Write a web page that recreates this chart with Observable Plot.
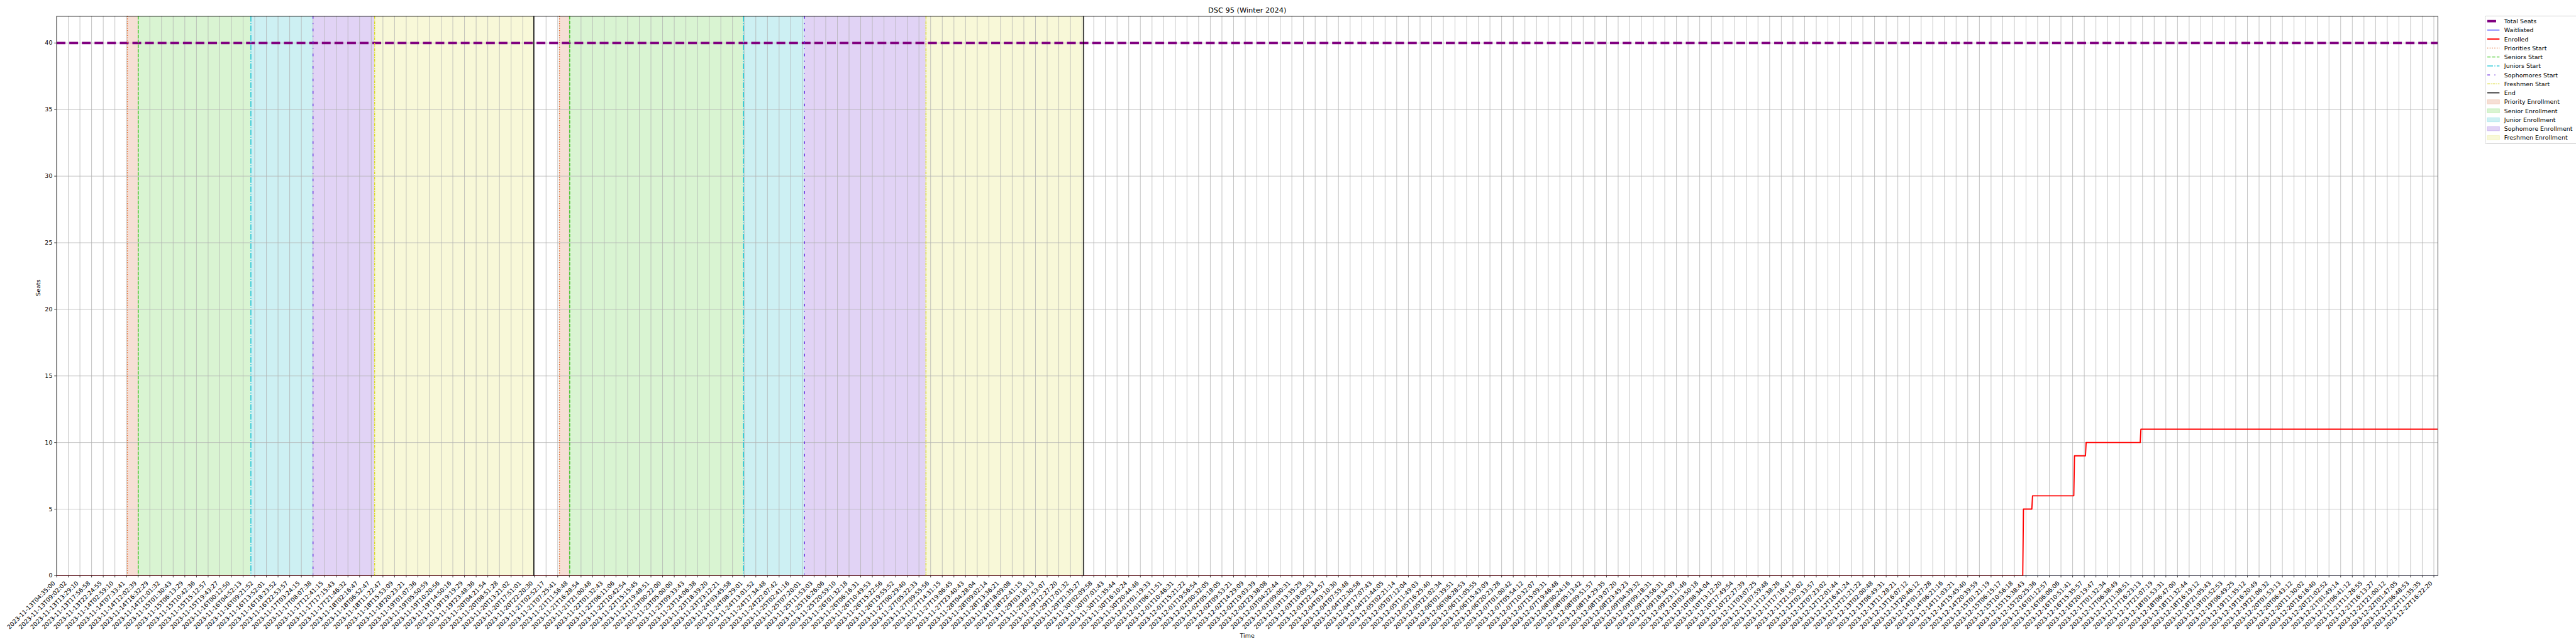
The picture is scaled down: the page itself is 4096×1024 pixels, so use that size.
<!DOCTYPE html>
<html>
<head>
<meta charset="utf-8">
<script src="https://cdn.jsdelivr.net/npm/d3@7"></script>
<script src="https://cdn.jsdelivr.net/npm/@observablehq/plot@0.6"></script>
<style>
html, body { margin: 0; padding: 0; background: #fff; }
#wrap { position: relative; width: 4096px; height: 1024px; overflow: hidden; }
</style>
</head>
<body>
<div id="wrap"></div>
<script>
// ---------------- data ----------------
const title = "DSC 95 (Winter 2024)";
const xLabel = "Time";
const yLabel = "Seats";

// x axis is the sample sequence; one unit = one tick step. Tick labels:
const tickLabels = [
"2023-11-13T04:35:00","2023-11-13T09:02:02","2023-11-13T13:29:10","2023-11-13T17:56:58","2023-11-13T22:24:55",
"2023-11-14T02:59:10","2023-11-14T07:33:41","2023-11-14T12:02:39","2023-11-14T16:32:29","2023-11-14T21:01:32",
"2023-11-15T01:30:43","2023-11-15T06:13:29","2023-11-15T10:42:36","2023-11-15T15:12:57","2023-11-15T19:43:27",
"2023-11-16T00:12:50","2023-11-16T04:52:13","2023-11-16T09:21:52","2023-11-16T13:52:01","2023-11-16T18:23:52",
"2023-11-16T22:53:57","2023-11-17T03:24:15","2023-11-17T08:07:38","2023-11-17T12:41:15","2023-11-17T17:15:43",
"2023-11-17T21:46:32","2023-11-18T02:16:47","2023-11-18T06:52:47","2023-11-18T11:22:47","2023-11-18T15:53:09",
"2023-11-18T20:23:21","2023-11-19T01:07:36","2023-11-19T05:50:59","2023-11-19T10:20:56","2023-11-19T14:50:16",
"2023-11-19T19:19:29","2023-11-19T23:48:36","2023-11-20T04:21:54","2023-11-20T08:51:28","2023-11-20T13:21:02",
"2023-11-20T17:51:01","2023-11-20T22:20:30","2023-11-21T02:52:17","2023-11-21T07:25:41","2023-11-21T11:56:48",
"2023-11-21T16:28:54","2023-11-21T21:00:48","2023-11-22T01:32:43","2023-11-22T06:11:06","2023-11-22T10:42:54",
"2023-11-22T15:15:45","2023-11-22T19:48:51","2023-11-23T00:22:00","2023-11-23T05:00:00","2023-11-23T09:33:43",
"2023-11-23T14:06:38","2023-11-23T18:39:20","2023-11-23T23:12:21","2023-11-24T03:45:58","2023-11-24T08:29:01",
"2023-11-24T13:01:52","2023-11-24T17:34:48","2023-11-24T22:07:42","2023-11-25T02:41:16","2023-11-25T07:20:01",
"2023-11-25T11:53:03","2023-11-25T16:26:06","2023-11-25T20:59:10","2023-11-26T01:32:18","2023-11-26T06:16:31",
"2023-11-26T10:49:53","2023-11-26T15:22:56","2023-11-26T19:55:52","2023-11-27T00:29:40","2023-11-27T05:22:33",
"2023-11-27T09:55:56","2023-11-27T14:31:15","2023-11-27T19:06:45","2023-11-27T23:40:43","2023-11-28T04:28:04",
"2023-11-28T09:02:14","2023-11-28T13:36:21","2023-11-28T18:09:08","2023-11-28T22:41:15","2023-11-29T03:16:13",
"2023-11-29T07:53:07","2023-11-29T12:27:20","2023-11-29T17:01:32","2023-11-29T21:35:27","2023-11-30T02:09:58",
"2023-11-30T07:01:43","2023-11-30T11:35:44","2023-11-30T16:10:24","2023-11-30T20:44:46","2023-12-01T01:19:33",
"2023-12-01T06:11:51","2023-12-01T10:46:31","2023-12-01T15:21:22","2023-12-01T19:56:54","2023-12-02T00:32:05",
"2023-12-02T05:18:05","2023-12-02T09:53:21","2023-12-02T14:29:09","2023-12-02T19:03:39","2023-12-02T23:38:08",
"2023-12-03T04:22:44","2023-12-03T09:00:31","2023-12-03T13:35:29","2023-12-03T18:09:53","2023-12-03T22:34:57",
"2023-12-04T03:10:30","2023-12-04T07:55:48","2023-12-04T12:30:58","2023-12-04T17:07:43","2023-12-04T21:44:05",
"2023-12-05T02:21:14","2023-12-05T07:12:04","2023-12-05T11:49:03","2023-12-05T16:25:40","2023-12-05T21:02:34",
"2023-12-06T01:39:51","2023-12-06T06:28:53","2023-12-06T11:05:55","2023-12-06T15:43:09","2023-12-06T20:23:28",
"2023-12-07T01:00:42","2023-12-07T05:54:12","2023-12-07T10:32:07","2023-12-07T15:09:31","2023-12-07T19:46:48",
"2023-12-08T00:24:16","2023-12-08T05:13:42","2023-12-08T09:51:57","2023-12-08T14:29:35","2023-12-08T19:07:20",
"2023-12-08T23:45:23","2023-12-09T04:39:32","2023-12-09T09:18:31","2023-12-09T13:56:31","2023-12-09T18:34:09",
"2023-12-09T23:11:46","2023-12-10T03:50:18","2023-12-10T08:34:04","2023-12-10T13:12:20","2023-12-10T17:49:54",
"2023-12-10T22:27:39","2023-12-11T03:07:25","2023-12-11T07:59:48","2023-12-11T12:38:26","2023-12-11T17:16:47",
"2023-12-11T21:55:02","2023-12-12T02:33:57","2023-12-12T07:23:02","2023-12-12T12:01:44","2023-12-12T16:41:24",
"2023-12-12T21:21:22","2023-12-13T02:00:48","2023-12-13T06:49:31","2023-12-13T11:28:21","2023-12-13T16:07:12",
"2023-12-13T20:46:12","2023-12-14T01:27:28","2023-12-14T06:21:16","2023-12-14T11:03:21","2023-12-14T15:45:40",
"2023-12-14T20:39:59","2023-12-15T01:21:19","2023-12-15T06:15:17","2023-12-15T10:56:18","2023-12-15T15:38:43",
"2023-12-15T20:25:36","2023-12-16T01:12:57","2023-12-16T06:06:06","2023-12-16T10:51:41","2023-12-16T15:35:57",
"2023-12-16T20:19:47","2023-12-17T01:32:34","2023-12-17T06:38:49","2023-12-17T11:38:51","2023-12-17T16:23:13",
"2023-12-17T21:07:19","2023-12-18T01:53:31","2023-12-18T06:47:00","2023-12-18T11:32:44","2023-12-18T16:19:12",
"2023-12-18T21:05:43","2023-12-19T01:52:53","2023-12-19T06:49:25","2023-12-19T11:35:12","2023-12-19T16:20:49",
"2023-12-19T21:06:32","2023-12-20T01:53:13","2023-12-20T06:43:12","2023-12-20T11:30:02","2023-12-20T16:16:40",
"2023-12-20T21:02:52","2023-12-21T01:49:14","2023-12-21T06:41:12","2023-12-21T11:26:55","2023-12-21T16:13:27",
"2023-12-21T21:00:12","2023-12-22T01:47:05","2023-12-22T06:48:53","2023-12-22T11:35:35","2023-12-22T16:22:20"
];
const xEnd = 204.34;            // last sample position (tick units)
const yTicks = [0, 5, 10, 15, 20, 25, 30, 35, 40];
const yTop = 42;

// series (x in tick units)
const totalSeatsX = [0, 204.34];
const totalSeatsY = [40, 40];
const waitlistedX = [0, 204.34];
const waitlistedY = [0, 0];
const enrolledX = [0, 168.72, 168.78, 169.50, 169.56, 173.10, 173.16, 174.10, 174.16, 178.80, 178.86, 204.34];
const enrolledY = [0, 0, 5, 5, 6, 6, 9, 9, 10, 10, 11, 11];

// enrollment pass boundaries (tick units), first and second pass
const prioritiesStart = [6.07, 43.15];
const seniorsStart    = [7.00, 44.03];
const juniorsStart    = [16.67, 58.95];
const sophomoresStart = [22.00, 64.18];
const freshmenStart   = [27.29, 74.60];
const endTimes        = [40.95, 88.13];

// legend
const legendLabels = ["Total Seats","Waitlisted","Enrolled","Priorities Start","Seniors Start","Juniors Start",
  "Sophomores Start","Freshmen Start","End","Priority Enrollment","Senior Enrollment","Junior Enrollment",
  "Sophomore Enrollment","Freshmen Enrollment"];

// ---------------- styles ----------------
const S = 0.682;
const PT = 100 / 72 * S;           // px per point
const FONT = "DejaVu Sans";
const fs = 10 * PT, fsTitle = 12 * PT;
const W = 4096, H = 1024;
const ML = 131.3 * S, MR = W - 5683 * S, MT = 37.4 * S, MB = H - 1341.5 * S;

const C = {
  seats: "#800080", wait: "#0000ff", enr: "#ff0000",
  pri: "#e0692a", sen: "#3cc81e", jun: "#17c3d4", sop: "#6a2be0", fre: "#d8d82a", end: "#000000"
};
const FILL = { pri: "#f6dfd5", sen: "#d9f4d2", jun: "#cdf0f3", sop: "#e1d3f5", fre: "#f8f8d8" };
const lwStart = 1.5 * PT;
const D = v => v.map(d => d * lwStart).join(",");
const DASH = {
  pri: D([1, 1.65]), sen: D([3.7, 1.6]), jun: D([6.4, 1.6, 1, 1.6]),
  sop: D([3, 5, 1, 5]), fre: D([3, 1, 1, 1]), end: null
};
const lwSeats = 4 * PT, lwWait = 1 * PT, lwEnr = 2 * PT;
const seatsDash = [3.7 * lwSeats, 1.6 * lwSeats].join(",");

const pts = (xs, ys) => xs.map((x, i) => ({x, y: ys[i]}));
const tickIdx = tickLabels.map((_, i) => i);

const spans = [];
for (let k = 0; k < 2; k++) {
  spans.push({a: prioritiesStart[k], b: seniorsStart[k], f: FILL.pri});
  spans.push({a: seniorsStart[k], b: juniorsStart[k], f: FILL.sen});
  spans.push({a: juniorsStart[k], b: sophomoresStart[k], f: FILL.jun});
  spans.push({a: sophomoresStart[k], b: freshmenStart[k], f: FILL.sop});
  spans.push({a: freshmenStart[k], b: endTimes[k], f: FILL.fre});
}
const vline = (arr, key) => Plot.ruleX(arr, {x: d => d, stroke: C[key], strokeWidth: lwStart,
  strokeDasharray: DASH[key] || undefined});

const chart = Plot.plot({
  width: W, height: H,
  marginLeft: ML, marginRight: MR, marginTop: MT, marginBottom: MB,
  style: {fontFamily: FONT, background: "white", color: "black", overflow: "visible"},
  x: {type: "linear", domain: [0, xEnd]},
  y: {type: "linear", domain: [0, yTop]},
  marks: [
    Plot.rect(spans, {x1: "a", x2: "b", fill: "f"}),
    Plot.gridX(tickIdx, {stroke: "#b0b0b0", strokeOpacity: 1, strokeWidth: 0.8 * PT}),
    Plot.gridY(yTicks, {stroke: "#b0b0b0", strokeOpacity: 1, strokeWidth: 0.8 * PT}),
    Plot.line(pts(totalSeatsX, totalSeatsY), {x: "x", y: "y", stroke: C.seats, strokeWidth: lwSeats,
      strokeDasharray: seatsDash, strokeLinecap: "butt", clip: true}),
    Plot.line(pts(waitlistedX, waitlistedY), {x: "x", y: "y", stroke: C.wait, strokeWidth: lwWait, clip: true}),
    Plot.line(pts(enrolledX, enrolledY), {x: "x", y: "y", stroke: C.enr, strokeWidth: lwEnr, clip: true}),
    vline(prioritiesStart, "pri"),
    vline(seniorsStart, "sen"),
    vline(juniorsStart, "jun"),
    vline(sophomoresStart, "sop"),
    vline(freshmenStart, "fre"),
    vline(endTimes, "end"),
    Plot.frame({stroke: "black", strokeWidth: 0.8 * PT}),
    Plot.axisX(tickIdx, {tickSize: 3.5 * PT, strokeWidth: 0.8 * PT, fill: "none", label: null}),
    Plot.text(tickIdx, {x: d => d, text: d => tickLabels[d], frameAnchor: "bottom", rotate: -45,
      textAnchor: "end", lineAnchor: "middle", fontSize: fs, fill: "black",
      dx: -5.7 * S, dy: 15.4 * S}),
    Plot.axisY(yTicks, {tickSize: 3.5 * PT, tickPadding: 3.5 * PT, strokeWidth: 0.8 * PT,
      fontSize: fs, fill: "black", label: null}),
    Plot.text([title], {frameAnchor: "top", text: d => d, fontSize: fsTitle, fill: "black",
      lineAnchor: "middle", dy: (23 - 37.4) * S}),
    Plot.text([xLabel], {frameAnchor: "bottom", text: d => d, fontSize: fs, fill: "black",
      lineAnchor: "middle", dy: (1481 - 1341.5) * S}),
    Plot.text([yLabel], {frameAnchor: "left", text: d => d, fontSize: fs, fill: "black",
      lineAnchor: "middle", rotate: -90, dx: (89 - 131.3) * S})
  ]
});
document.getElementById("wrap").appendChild(chart);

// ---------------- legend (drawn into the same svg, right of the axes) ----------------
const svg = d3.select(chart);
const LX = 5794 * S, LY = 37.3 * S, LH = (335 - 37.3) * S, LW = 260 * S;
const g = svg.append("g").attr("font-family", FONT).attr("font-size", fs).attr("text-anchor", "start");
g.append("rect").attr("x", LX).attr("y", LY).attr("width", LW).attr("height", LH)
  .attr("rx", 2.8 * S).attr("fill", "white").attr("fill-opacity", 0.8)
  .attr("stroke", "#cccccc").attr("stroke-width", 1 * PT);
const hx0 = 5799 * S, hx1 = 5827.5 * S, tx = 5838.5 * S;
const row = i => (49.3 + 20.9 * i) * S;
const handles = [
  {type: "line", stroke: C.seats, w: lwSeats, dash: seatsDash},
  {type: "line", stroke: C.wait, w: lwWait},
  {type: "line", stroke: C.enr, w: lwEnr},
  {type: "line", stroke: C.pri, w: lwStart, dash: DASH.pri},
  {type: "line", stroke: C.sen, w: lwStart, dash: DASH.sen},
  {type: "line", stroke: C.jun, w: lwStart, dash: DASH.jun},
  {type: "line", stroke: C.sop, w: lwStart, dash: DASH.sop},
  {type: "line", stroke: C.fre, w: lwStart, dash: DASH.fre},
  {type: "line", stroke: C.end, w: lwStart},
  {type: "patch", fill: FILL.pri, stroke: C.pri},
  {type: "patch", fill: FILL.sen, stroke: C.sen},
  {type: "patch", fill: FILL.jun, stroke: C.jun},
  {type: "patch", fill: FILL.sop, stroke: C.sop},
  {type: "patch", fill: FILL.fre, stroke: C.fre}
];
legendLabels.forEach((lab, i) => {
  const y = row(i), h = handles[i];
  if (h.type === "line") {
    g.append("line").attr("x1", hx0).attr("x2", hx1).attr("y1", y).attr("y2", y)
      .attr("stroke", h.stroke).attr("stroke-width", h.w)
      .attr("stroke-dasharray", h.dash || null);
  } else {
    const ph = 0.7 * 10 * PT;
    g.append("rect").attr("x", hx0).attr("y", y - ph / 2).attr("width", hx1 - hx0).attr("height", ph)
      .attr("fill", h.fill).attr("stroke", h.stroke).attr("stroke-opacity", 0.2).attr("stroke-width", 1 * PT);
  }
  g.append("text").attr("x", tx).attr("y", y).attr("dy", "0.36em").attr("fill", "black")
    .attr("text-anchor", "start").text(lab);
});
</script>
</body>
</html>
